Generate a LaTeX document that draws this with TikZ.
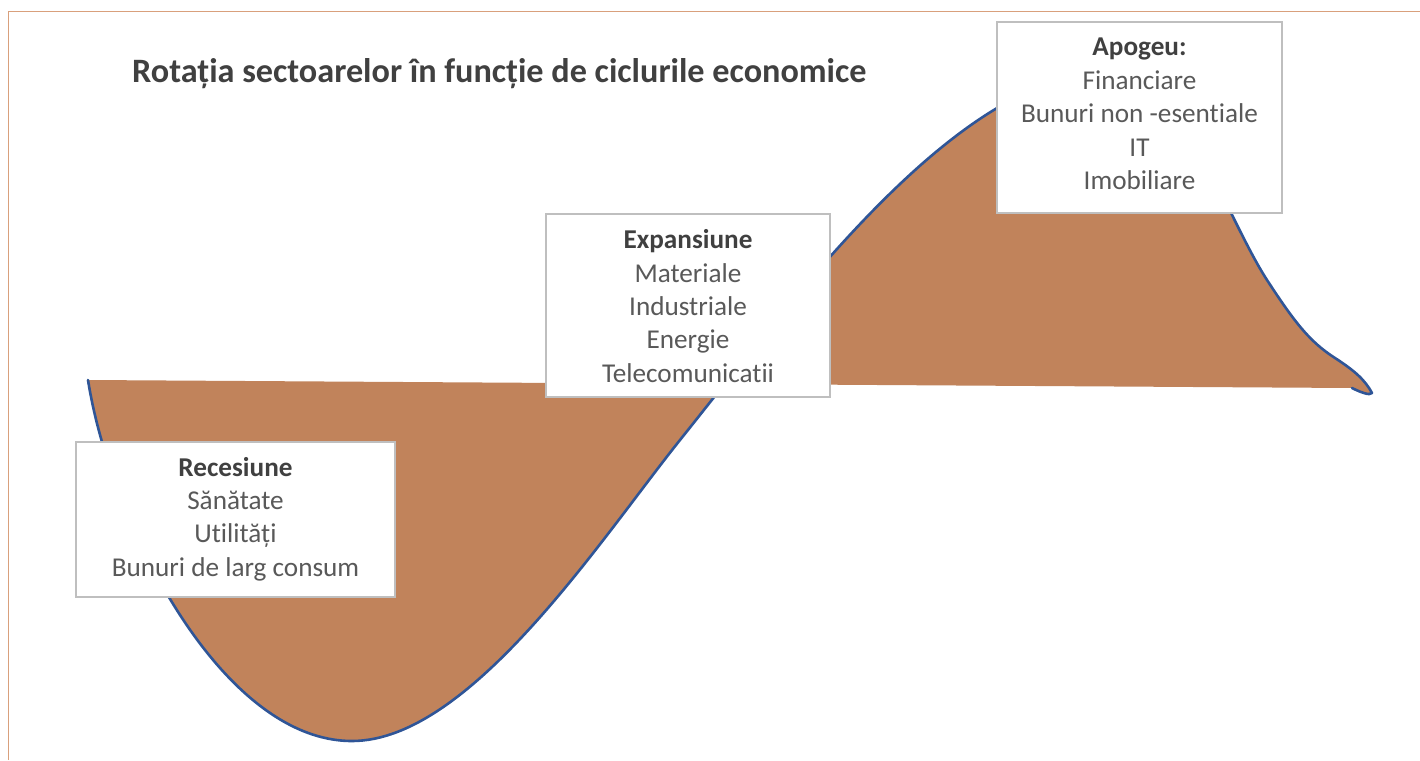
\documentclass[tikz,border=0pt]{standalone}
\usepackage{fontspec}
\setmainfont{Carlito}[Ligatures=NoCommon]
\definecolor{wavefill}{HTML}{C1835B}
\definecolor{waveline}{HTML}{2F5597}
\definecolor{boxline}{HTML}{BFBFBF}
\definecolor{frameline}{HTML}{D9A07C}
\definecolor{txtgray}{HTML}{595959}
\definecolor{titlegray}{HTML}{404040}
\begin{document}
\begin{tikzpicture}[x=1pt,y=-1pt,
  phasebox/.style={draw=boxline, line width=1.3pt, fill=white, inner sep=0pt},
  phasetext/.style={align=center, text=txtgray, inner sep=0pt,
    font=\fontsize{27.2}{33.4}\selectfont},
  wavefillstyle/.style={fill=wavefill},
  wavelinestyle/.style={draw=waveline, line width=2.6pt, line join=round, line cap=round},
  framestyle/.style={draw=frameline, line width=1.6pt}]
\useasboundingbox (0,0) rectangle (1420,760);
\fill[white] (0,0) rectangle (1420,760);
% frame
\draw[framestyle] (8.5,760) -- (8.5,11.5) -- (1420,11.5);
% wave fill
\path[wavefillstyle] (88,380)
  .. controls (110,520) and (220,741) .. (352,741)
  .. controls (470,741) and (600,540) .. (680,440)
  .. controls (800,290) and (960,72) .. (1110,72)
  .. controls (1180,72) and (1225,215) .. (1267,280)
  .. controls (1295,323) and (1310,342) .. (1335,358)
  .. controls (1355,371) and (1365,380) .. (1372,393)
  .. controls (1370,396) and (1360,392) .. (1352,388)
  -- (88,380) -- cycle;
% wave outline
\draw[wavelinestyle] (88,380)
  .. controls (110,520) and (220,741) .. (352,741)
  .. controls (470,741) and (600,540) .. (680,440)
  .. controls (800,290) and (960,72) .. (1110,72)
  .. controls (1180,72) and (1225,215) .. (1267,280)
  .. controls (1295,323) and (1310,342) .. (1335,358)
  .. controls (1355,371) and (1365,380) .. (1372,393)
  .. controls (1370,396) and (1360,392) .. (1352,388);
% title
\node[anchor=base west, inner sep=0pt, text=titlegray,
  font=\fontsize{34.2}{41}\selectfont\bfseries] (title) at (132,82)
  {Rotația sectoarelor în funcție de ciclurile economice};
% boxes
\node[phasebox, minimum width=319pt, minimum height=155pt] (rec) at (235.5,519.5) {};
\node[phasetext] (recT) at (235.5,519) {\textbf{\color{titlegray}Recesiune}\\Sănătate\\Utilități\\Bunuri de larg consum};
\node[phasebox, minimum width=284pt, minimum height=183pt] (exp) at (688,305.5) {};
\node[phasetext] (expT) at (688,306) {\textbf{\color{titlegray}Expansiune}\\Materiale\\Industriale\\Energie\\Telecomunicatii};
\node[phasebox, minimum width=285pt, minimum height=191pt] (apo) at (1139.5,117.5) {};
\node[phasetext] (apoT) at (1139.5,114) {\textbf{\color{titlegray}Apogeu:}\\Financiare\\Bunuri non -esentiale\\IT\\Imobiliare};
\end{tikzpicture}
\end{document}
